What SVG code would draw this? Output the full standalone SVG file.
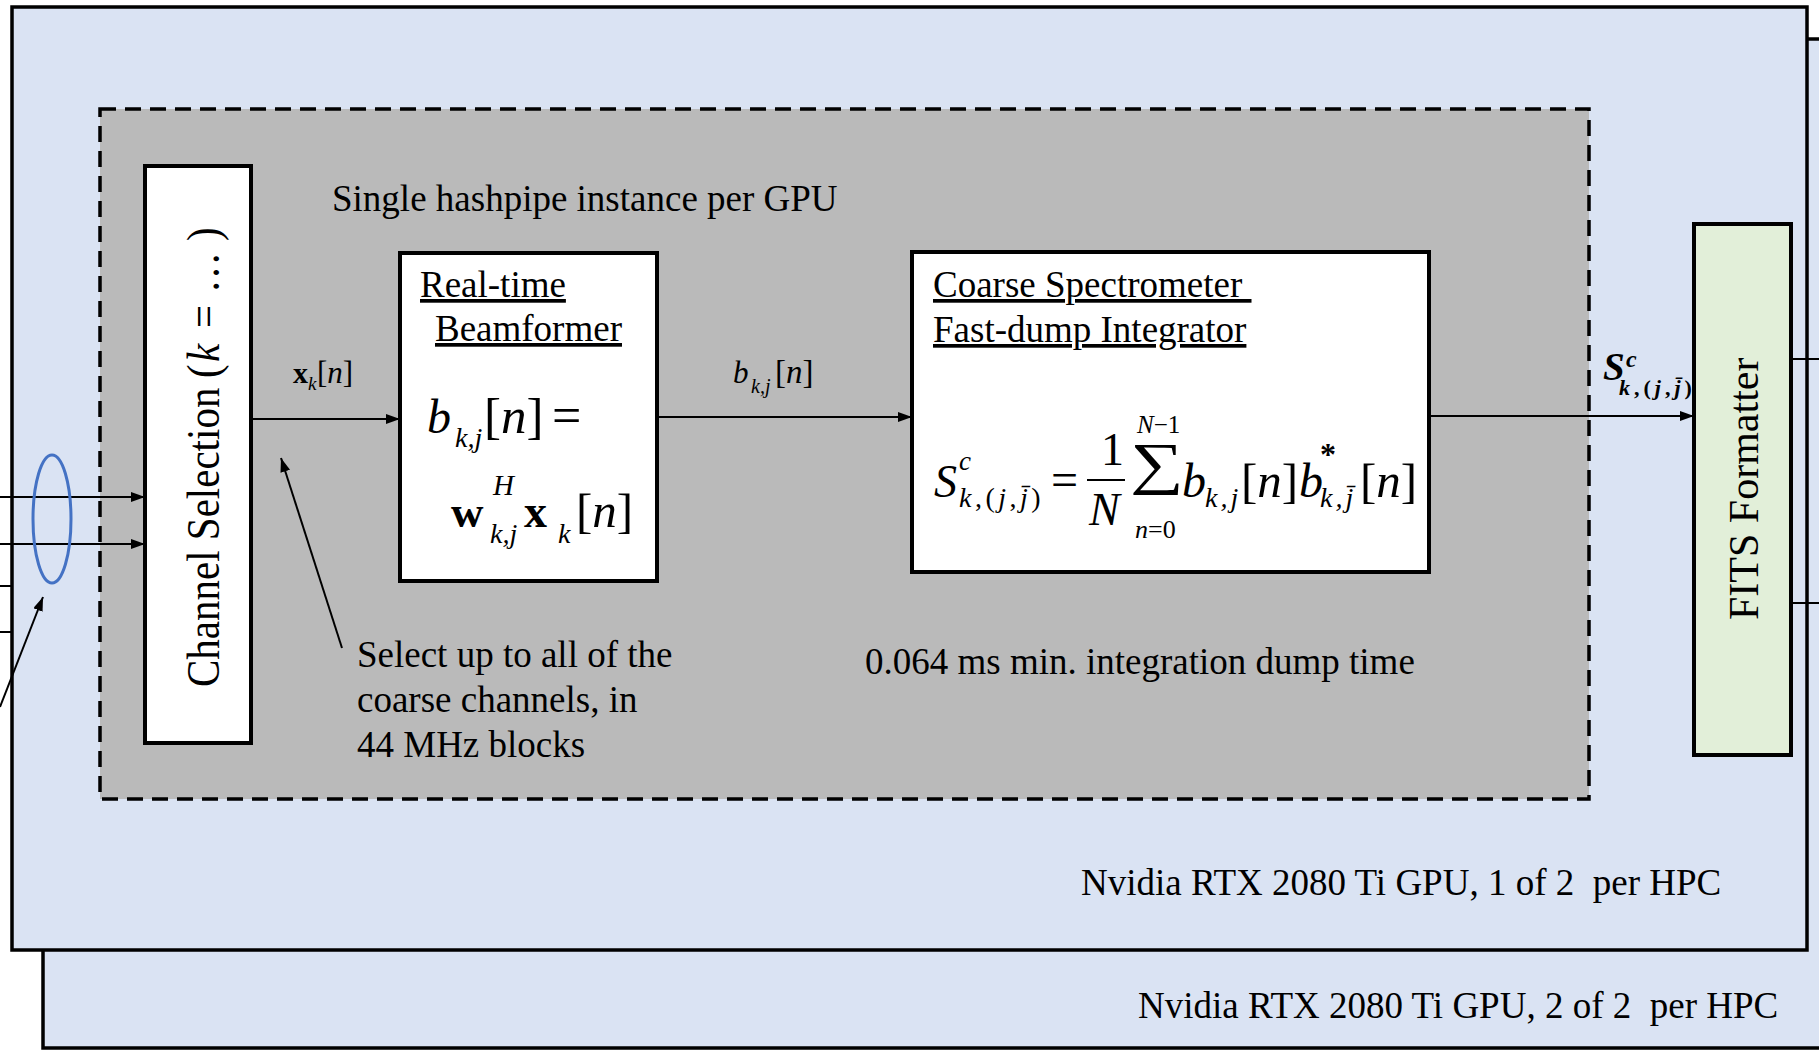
<svg xmlns="http://www.w3.org/2000/svg" width="1819" height="1052" viewBox="0 0 1819 1052">
  <defs>
    <style>
      text { font-family: "Liberation Serif", "Times New Roman", serif; fill: #000; }
      .t { font-size: 37px; white-space: pre; }
      .i { font-style: italic; }
      .bd { font-weight: bold; }
      .u { text-decoration: underline; white-space: pre; }
      .gpu { fill: #DAE3F3; stroke: #000; stroke-width: 3.5; }
      .box { fill: #FFFFFF; stroke: #000; stroke-width: 4; }
      .hash { fill: #BABABA; stroke: #000; stroke-width: 3.5; stroke-dasharray: 16 9; }
      .fits { fill: #E2EFD9; stroke: #000; stroke-width: 4; }
      .conn { stroke: #000; stroke-width: 2; fill: none; }
      .arrow { marker-end: url(#arrowhead); }
    </style>
    <marker id="arrowhead" markerUnits="userSpaceOnUse" markerWidth="14" markerHeight="10" refX="14" refY="5" orient="auto">
      <path d="M0,0 L14,5 L0,10 z" fill="#000"/>
    </marker>
  </defs>

  <rect x="0" y="0" width="1819" height="1052" fill="#FFFFFF"/>

  <!-- second GPU card (behind) -->
  <g id="gpu2">
    <rect class="gpu" x="43" y="39" width="1800" height="1009"/>
    <text class="t" x="1138" y="1018">Nvidia RTX 2080 Ti GPU, 2 of 2  per HPC</text>
  </g>

  <!-- first GPU card -->
  <g id="gpu1">
    <rect class="gpu" x="12" y="7" width="1795" height="943"/>
    <text class="t" x="1081" y="895">Nvidia RTX 2080 Ti GPU, 1 of 2  per HPC</text>
  </g>

  <!-- hashpipe instance region -->
  <g id="hashpipe">
    <rect class="hash" x="100" y="109" width="1489" height="690"/>
    <text class="t" x="332" y="211">Single hashpipe instance per GPU</text>
    <text class="t" x="865" y="674">0.064 ms min. integration dump time</text>
  </g>

  <!-- channel selection -->
  <g id="channel-selection">
    <rect class="box" x="145" y="166" width="106" height="577"/>
    <text transform="translate(219,687) rotate(-90) scale(1,1.15)" font-size="41">Channel Selection<tspan x="309">(</tspan><tspan x="325" class="i">k</tspan><tspan x="359">=</tspan><tspan x="394">…</tspan><tspan x="446">)</tspan></text>
  </g>

  <!-- beamformer -->
  <g id="beamformer">
    <rect class="box" x="400" y="253" width="257" height="328"/>
    <text class="t u" x="420" y="297">Real-time</text>
    <text class="t u" x="435" y="341">Beamformer</text>
    <text class="i" x="427" y="433" font-size="48">b</text>
    <text class="i" x="455" y="447" font-size="28">k,j</text>
    <text x="484" y="433" font-size="51">[<tspan class="i">n</tspan>]</text>
    <text x="552" y="433" font-size="52">=</text>
    <text class="bd" x="451" y="527" font-size="45">w</text>
    <text class="i" x="493" y="495" font-size="29">H</text>
    <text class="i" x="490" y="543" font-size="28">k,j</text>
    <text class="bd" x="524" y="527" font-size="46">x</text>
    <text class="i" x="558" y="543" font-size="28">k</text>
    <text x="576" y="527" font-size="49">[<tspan class="i">n</tspan>]</text>
  </g>

  <!-- coarse spectrometer / integrator -->
  <g id="integrator">
    <rect class="box" x="912" y="252" width="517" height="320"/>
    <text class="t u" x="933" y="297">Coarse Spectrometer </text>
    <text class="t u" x="933" y="342">Fast-dump Integrator</text>
    <text class="i" x="934" y="497" font-size="46">S</text>
    <text class="i" x="959" y="470" font-size="27">c</text>
    <text x="959" y="507" font-size="28" letter-spacing="3.5"><tspan class="i">k</tspan>,(<tspan class="i">j</tspan>,<tspan class="i">j̄</tspan>)</text>
    <text x="1051" y="496" font-size="48">=</text>
    <text x="1101" y="465" font-size="46">1</text>
    <line x1="1087" y1="480" x2="1125" y2="480" stroke="#000" stroke-width="2"/>
    <text class="i" x="1089" y="525" font-size="46">N</text>
    <text transform="translate(1130,483) scale(1.3,1)" font-size="58">∑</text>
    <text x="1137" y="433" font-size="25"><tspan class="i">N</tspan>−1</text>
    <text x="1135" y="538" font-size="26"><tspan class="i">n</tspan>=0</text>
    <text class="i" x="1182" y="497" font-size="48">b</text>
    <text class="i" x="1205" y="507" font-size="28" letter-spacing="3">k,j</text>
    <text x="1241" y="497" font-size="49">[<tspan class="i">n</tspan>]</text>
    <text class="i" x="1299" y="497" font-size="48">b</text>
    <text class="bd" x="1320" y="465" font-size="32">*</text>
    <text class="i" x="1320" y="507" font-size="28" letter-spacing="3">k,j̄</text>
    <text x="1360" y="497" font-size="49">[<tspan class="i">n</tspan>]</text>
  </g>

  <!-- FITS formatter -->
  <g id="fits-formatter">
    <rect class="fits" x="1694" y="224" width="97" height="531"/>
    <text transform="translate(1758,620) rotate(-90)" font-size="42">FITS Formatter</text>
  </g>

  <!-- connectors -->
  <g id="connectors">
    <line class="conn arrow" x1="0" y1="497" x2="145" y2="497"/>
    <line class="conn arrow" x1="0" y1="544" x2="145" y2="544"/>
    <line class="conn" x1="0" y1="586" x2="12" y2="586"/>
    <line class="conn" x1="0" y1="632" x2="12" y2="632"/>
    <line class="conn arrow" x1="251" y1="419" x2="400" y2="419"/>
    <line class="conn arrow" x1="657" y1="417" x2="912" y2="417"/>
    <line class="conn arrow" x1="1429" y1="416" x2="1694" y2="416"/>
    <line class="conn" x1="1791" y1="359" x2="1819" y2="359"/>
    <line class="conn" x1="1791" y1="603" x2="1819" y2="603"/>
    <line class="conn arrow" x1="0" y1="707" x2="43" y2="597"/>
    <line class="conn arrow" x1="342" y1="648" x2="281" y2="458"/>
  </g>

  <!-- signal labels -->
  <g id="labels">
    <text class="bd" x="293" y="383" font-size="30">x</text>
    <text class="i" x="308" y="390" font-size="19">k</text>
    <text x="317" y="383" font-size="31">[<tspan class="i">n</tspan>]</text>
    <text class="i" x="733" y="383" font-size="31">b</text>
    <text class="i" x="751" y="393" font-size="20">k,j</text>
    <text x="775" y="383" font-size="33">[<tspan class="i">n</tspan>]</text>
    <text class="i bd" x="1603" y="380" font-size="39">S</text>
    <text class="i bd" x="1626" y="367" font-size="24">c</text>
    <text class="bd" x="1619" y="395" font-size="22" letter-spacing="4"><tspan class="i">k</tspan>,(<tspan class="i">j</tspan>,<tspan class="i">j̄</tspan>)</text>
  </g>

  <!-- grouped antenna inputs -->
  <g id="input-bundle">
    <ellipse cx="52" cy="519" rx="19" ry="64" fill="none" stroke="#4472C4" stroke-width="3"/>
  </g>

  <!-- selection note -->
  <g id="selection-note">
    <text class="t" x="357" y="667">Select up to all of the</text>
    <text class="t" x="357" y="712">coarse channels, in</text>
    <text class="t" x="357" y="757">44 MHz blocks</text>
  </g>
</svg>
